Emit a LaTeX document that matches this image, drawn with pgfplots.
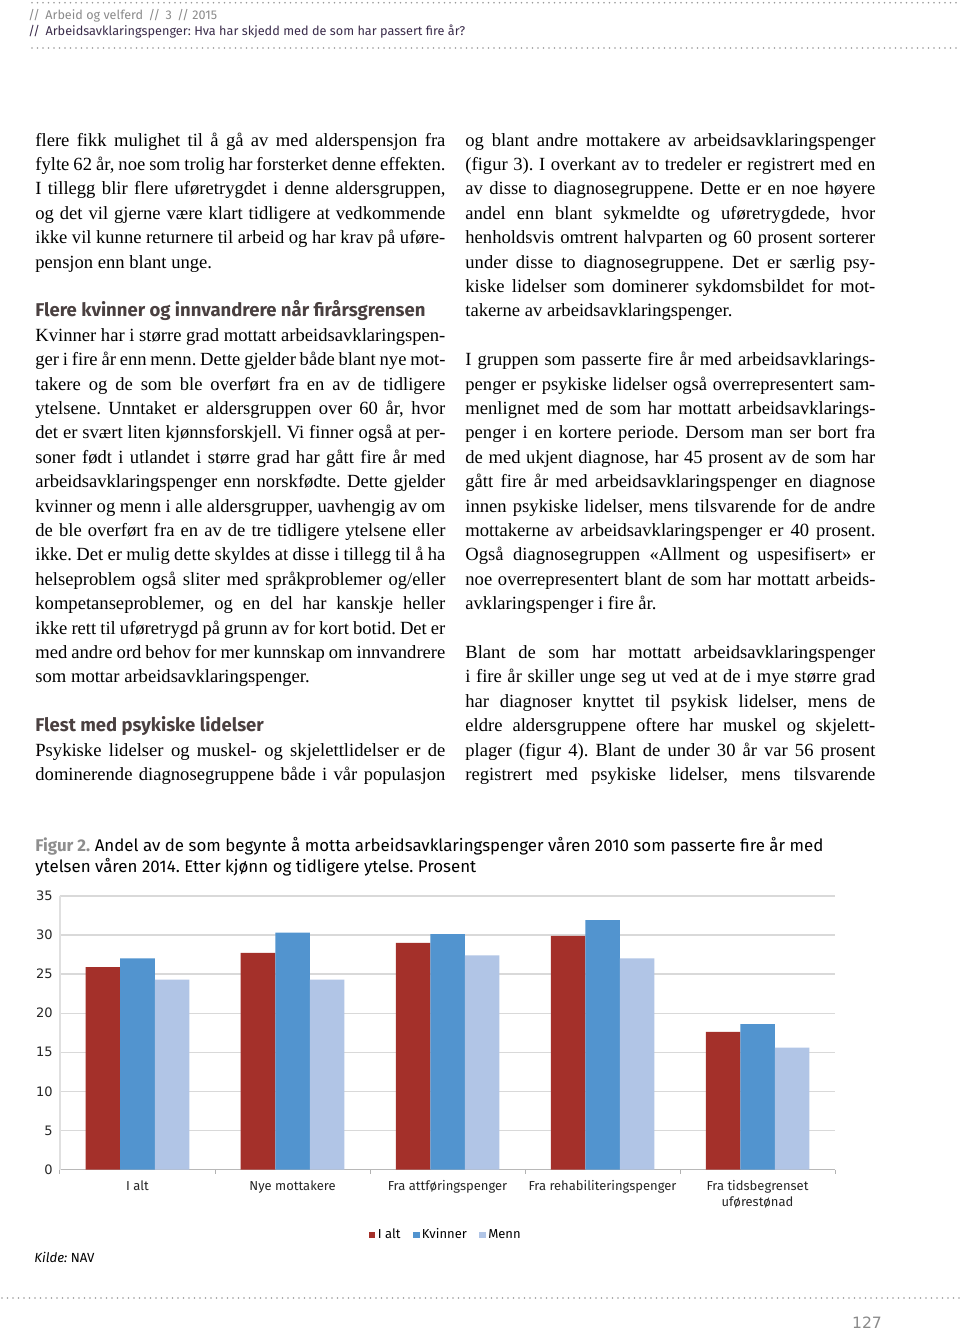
\documentclass[border=0pt]{standalone}
\usepackage{fontspec}
\usepackage{pgfplots}
\pgfplotsset{compat=1.18}
\setmainfont{Liberation Serif}
\newfontfamily\bodyfont{Liberation Serif}
\newfontfamily\fira{Fira Sans}
\newfontfamily\dejavu{DejaVu Sans}
\definecolor{cRed}{HTML}{A4302A}
\definecolor{cBlue}{HTML}{5294CF}
\definecolor{cLight}{HTML}{B1C5E6}
\definecolor{hdrgray}{HTML}{8A8A8A}
\definecolor{hdrdark}{HTML}{3B2C4B}
\definecolor{headcol}{HTML}{4A4040}
\definecolor{figgray}{HTML}{8E8E8E}
\definecolor{dotcol}{HTML}{9A9A9A}
\frenchspacing
\newdimen\colw \colw=205pt
\newcommand\JL[1]{\hbox to\colw{#1}}
\newcommand\NL[1]{\hbox{#1}}
\newcommand\body{\bodyfont\fontsize{9.3}{12.2}\selectfont\frenchspacing\baselineskip=12.2pt\hsize=\colw}
\newcommand\head{\fira\bfseries\fontsize{9.25}{12.2}\selectfont\color{headcol}}
\newcommand\tickfont{\fira\fontsize{6.5}{8}\selectfont}
\begin{document}
\begin{tikzpicture}
\fill[white] (0,0) rectangle (480pt,-667pt);
\useasboundingbox (0,0) rectangle (480pt,-667pt);
\begin{scope}[x=0.5pt,y=-0.5pt]
% dotted rules
\draw[dotcol, line width=0.9pt, line cap=round, dash pattern=on 0pt off 2.75pt] (32,2.7) -- (960,2.7);
\draw[dotcol, line width=0.9pt, line cap=round, dash pattern=on 0pt off 2.75pt] (32,48) -- (960,48);
\draw[dotcol, line width=0.9pt, line cap=round, dash pattern=on 0pt off 2.75pt] (2,1298) -- (960,1298);
% header
\node[anchor=base west, inner sep=0pt, text=hdrgray] at (28,19) {\fira\fontsize{6.3}{7}\selectfont // \,Arbeid og velferd \,// \,3 \,// 2015};
\node[anchor=base west, inner sep=0pt, text=hdrdark] at (28,35) {\fira\fontsize{6.35}{7}\selectfont // \,Arbeidsavklaringspenger: Hva har skjedd med de som har passert fire år?};
% left column
\node[anchor=base west, inner sep=0pt] at (35,146) {\vtop{\body
\JL{flere fikk mulighet til å gå av med alderspensjon fra}
\JL{fylte 62 år, noe som trolig har forsterket denne effekten.}
\JL{I tillegg blir flere uføretrygdet i denne aldersgruppen,}
\JL{og det vil gjerne være klart tidligere at vedkommende}
\JL{ikke vil kunne returnere til arbeid og har krav på uføre-}
\NL{pensjon enn blant unge.}
\vskip12.2pt
\NL{\head Flere kvinner og innvandrere når firårsgrensen}
\JL{Kvinner har i større grad mottatt arbeidsavklaringspen-}
\JL{ger i fire år enn menn. Dette gjelder både blant nye mot-}
\JL{takere og de som ble overført fra en av de tidligere}
\JL{ytelsene. Unntaket er aldersgruppen over 60 år, hvor}
\JL{det er svært liten kjønnsforskjell. Vi finner også at per-}
\JL{soner født i utlandet i større grad har gått fire år med}
\JL{arbeidsavklaringspenger enn norskfødte. Dette gjelder}
\JL{kvinner og menn i alle aldersgrupper, uavhengig av om}
\JL{de ble overført fra en av de tre tidligere ytelsene eller}
\JL{ikke. Det er mulig dette skyldes at disse i tillegg til å ha}
\JL{helseproblem også sliter med språkproblemer og/eller}
\JL{kompetanseproblemer, og en del har kanskje heller}
\JL{ikke rett til uføretrygd på grunn av for kort botid. Det er}
\JL{med andre ord behov for mer kunnskap om innvandrere}
\NL{som mottar arbeidsavklaringspenger.}
\vskip12.2pt
\NL{\head Flest med psykiske lidelser}
\JL{Psykiske lidelser og muskel- og skjelettlidelser er de}
\JL{dominerende diagnosegruppene både i vår populasjon}
}};
% right column
\node[anchor=base west, inner sep=0pt] at (465,146) {\vtop{\body
\JL{og blant andre mottakere av arbeidsavklaringspenger}
\JL{(figur 3). I overkant av to tredeler er registrert med en}
\JL{av disse to diagnosegruppene. Dette er en noe høyere}
\JL{andel enn blant sykmeldte og uføretrygdede, hvor}
\JL{henholdsvis omtrent halvparten og 60 prosent sorterer}
\JL{under disse to diagnosegruppene. Det er særlig psy-}
\JL{kiske lidelser som dominerer sykdomsbildet for mot-}
\NL{takerne av arbeidsavklaringspenger.}
\vskip12.2pt
\JL{I gruppen som passerte fire år med arbeidsavklarings-}
\JL{penger er psykiske lidelser også overrepresentert sam-}
\JL{menlignet med de som har mottatt arbeidsavklarings-}
\JL{penger i en kortere periode. Dersom man ser bort fra}
\JL{de med ukjent diagnose, har 45 prosent av de som har}
\JL{gått fire år med arbeidsavklaringspenger en diagnose}
\JL{innen psykiske lidelser, mens tilsvarende for de andre}
\JL{mottakerne av arbeidsavklaringspenger er 40 prosent.}
\JL{Også diagnosegruppen «Allment og uspesifisert» er}
\JL{noe overrepresentert blant de som har mottatt arbeids-}
\NL{avklaringspenger i fire år.}
\vskip12.2pt
\JL{Blant de som har mottatt arbeidsavklaringspenger}
\JL{i fire år skiller unge seg ut ved at de i mye større grad}
\JL{har diagnoser knyttet til psykisk lidelser, mens de}
\JL{eldre aldersgruppene oftere har muskel og skjelett-}
\JL{plager (figur 4). Blant de under 30 år var 56 prosent}
\JL{registrert med psykiske lidelser, mens tilsvarende}
}};
% figure caption
\node[anchor=base west, inner sep=0pt] at (35,851) {\fira\fontsize{8.45}{10}\selectfont{\color{figgray}\bfseries Figur 2.} Andel av de som begynte å motta arbeidsavklaringspenger våren 2010 som passerte fire år med};
\node[anchor=base west, inner sep=0pt] at (35,872) {\fira\fontsize{8.45}{10}\selectfont ytelsen våren 2014. Etter kjønn og tidligere ytelse. Prosent};
% source
\node[anchor=base west, inner sep=0pt] at (34,1262) {\fira\fontsize{6.6}{8}\selectfont\itshape Kilde:\upshape\ NAV};
% page number
\node[inner sep=0pt, text=hdrgray] at (867,1323) {\dejavu\fontsize{7.8}{9}\selectfont 127};
\end{scope}
\begin{axis}[
  at={(30pt,-584.75pt)}, anchor=south west,
  scale only axis, width=387.5pt, height=136.8pt,
  ybar=0pt, bar width=17.25pt,
  xmin=-0.5, xmax=4.5, ymin=0, ymax=35,
  xtick={0,1,2,3,4},
  xticklabels={I alt, Nye mottakere, Fra attføringspenger, Fra rehabiliteringspenger, {Fra tidsbegrenset\\uførestønad}},
  minor xtick={-0.5,0.5,1.5,2.5,3.5,4.5},
  major tick length=0pt, minor tick length=2pt,
  tick align=outside,
  major x tick style={draw=none},
  minor x tick style={draw=black!30, line width=0.5pt},
  ytick={0,5,...,35},
  major y tick style={draw=none},
  ymajorgrids, y grid style={draw=black!15, line width=0.6pt},
  axis x line*=bottom, axis y line*=left,
  x axis line style={draw=black!28, line width=0.6pt},
  y axis line style={draw=black!12, line width=0.6pt},
  xticklabel style={font=\tickfont, align=center, text=black!85, inner sep=2pt, yshift=-3.3pt},
  yticklabel style={font=\dejavu\fontsize{6.5}{7}\selectfont, text=black!85, inner sep=3.5pt},
  /pgf/number format/assume math mode=true,
  legend style={at={(0.498,-0.24)}, anchor=center, draw=none, fill=none, font=\tickfont, legend columns=3, nodes={inner sep=1.2pt}, /tikz/every even column/.append style={column sep=5pt}},
  every axis plot post/.append style={legend image code/.code={\fill[##1] (0pt,-1.6pt) rectangle (3.3pt,1.7pt);}},
]
\addplot[fill=cRed, draw=none] coordinates {(0,25.9) (1,27.7) (2,29.0) (3,29.9) (4,17.6)};
\addplot[fill=cBlue, draw=none] coordinates {(0,27.0) (1,30.3) (2,30.1) (3,31.9) (4,18.6)};
\addplot[fill=cLight, draw=none] coordinates {(0,24.3) (1,24.3) (2,27.4) (3,27.0) (4,15.6)};
\legend{I alt, Kvinner, Menn}
\end{axis}
\end{tikzpicture}
\end{document}
